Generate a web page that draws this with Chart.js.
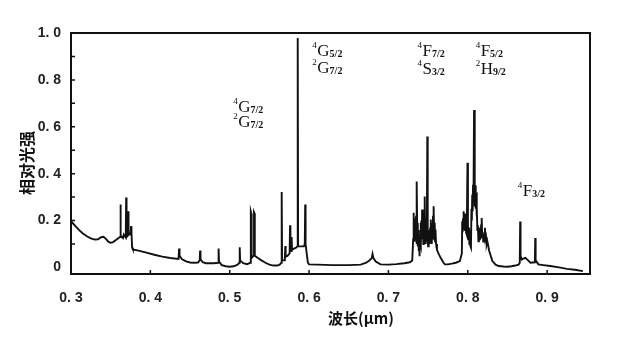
<!DOCTYPE html>
<html>
<head>
<meta charset="utf-8">
<script src="https://cdn.jsdelivr.net/npm/chart.js@4.4.0/dist/chart.umd.min.js"></script>
<style>
  html, body { margin: 0; padding: 0; background: #fff; }
  #caixa { width: 640px; height: 347px; position: relative; }
</style>
</head>
<body>
<div id="caixa"><canvas id="espectro"></canvas></div>
<script>
// ---------- DADOS ----------
const comprimentos = [
  0.300, 0.305, 0.310, 0.315, 0.320, 0.325, 0.330, 0.334, 0.338, 0.341, 0.344, 0.347, 0.350, 0.353, 0.357, 0.360,
  0.3618, 0.3623, 0.3628, 0.3655, 0.3665, 0.3690, 0.3695, 0.3700, 0.3715, 0.3720, 0.3725, 0.3740, 0.3752, 0.3757, 0.3762, 0.3770, 0.3780,
  0.385, 0.395, 0.405, 0.415, 0.425, 0.4355, 0.4362, 0.4368, 0.440, 0.445, 0.450, 0.455, 0.460,
  0.4622, 0.4627, 0.4632, 0.466, 0.470, 0.475, 0.480, 0.4855, 0.4860, 0.4865, 0.490, 0.495, 0.500, 0.505, 0.510,
  0.5121, 0.5126, 0.5131, 0.517, 0.522, 0.5262, 0.5266, 0.5272, 0.5276, 0.5302, 0.5306, 0.5312, 0.5316,
  0.535, 0.540, 0.545, 0.550, 0.555, 0.560, 0.563, 0.5650, 0.5655, 0.5660, 0.5685, 0.5695, 0.5700, 0.5705,
  0.5730, 0.5755, 0.5760, 0.5765, 0.5775, 0.5780, 0.5785, 0.581, 0.584, 0.5852, 0.5857, 0.5862, 0.589,
  0.5935, 0.5946, 0.5951, 0.5956, 0.5970, 0.5985, 0.600,
  0.610, 0.630, 0.650, 0.665, 0.672, 0.676, 0.679, 0.680, 0.681, 0.684, 0.690, 0.700, 0.710, 0.720, 0.727, 0.730,
  // primeiro grupo (0.73 - 0.76)
  0.7312, 0.7316, 0.7320, 0.7325, 0.7330, 0.7336, 0.7342, 0.7348, 0.7353, 0.7359,
  0.7364, 0.7368, 0.7372, 0.7377, 0.7382, 0.7386, 0.7390, 0.7395, 0.7400, 0.7405,
  0.7410, 0.7415, 0.7420, 0.7425, 0.7430, 0.7435, 0.7440, 0.7446, 0.7451, 0.7457,
  0.7462, 0.7467, 0.7472, 0.7478, 0.7483, 0.7490, 0.7495, 0.7500, 0.7505, 0.7510,
  0.7515, 0.7520, 0.7526, 0.7531, 0.7536, 0.7541, 0.7546, 0.7551, 0.7556, 0.7562,
  0.7567, 0.7572, 0.7577, 0.7583, 0.7588, 0.7593, 0.7600,
  0.7612, 0.7630, 0.766, 0.769, 0.7711, 0.775, 0.780, 0.785, 0.790, 0.7925,
  // segundo grupo (0.79 - 0.83)
  0.7930, 0.7935, 0.7940, 0.7945, 0.7950, 0.7955, 0.7960, 0.7966, 0.7972, 0.7978,
  0.7984, 0.7990, 0.7996, 0.8002, 0.8008, 0.8015, 0.8020, 0.8027, 0.8033, 0.8040,
  0.8046, 0.8051, 0.8056, 0.8061, 0.8066, 0.8072, 0.8079, 0.8085, 0.8090, 0.8095,
  0.8100, 0.8105, 0.8110, 0.8116, 0.8121, 0.8127, 0.8134, 0.8140, 0.8146, 0.8152,
  0.8160, 0.8168, 0.8175, 0.8182, 0.8189, 0.8195, 0.8203, 0.8210, 0.8216, 0.8222,
  0.8230, 0.8238, 0.8246, 0.827, 0.831, 0.835, 0.839,
  0.845, 0.850, 0.855, 0.860, 0.864, 0.8655, 0.8660, 0.8665, 0.8680, 0.8700, 0.8725, 0.8760, 0.8790,
  0.8845, 0.8850, 0.8855, 0.8890, 0.895, 0.904, 0.915, 0.925, 0.935, 0.945
];
const intensidades = [
  0.197, 0.178, 0.160, 0.145, 0.133, 0.124, 0.119, 0.120, 0.129, 0.131, 0.122, 0.110, 0.105, 0.108, 0.118, 0.126,
  0.130, 0.268, 0.135, 0.125, 0.140, 0.128, 0.298, 0.130, 0.135, 0.240, 0.140, 0.140, 0.150, 0.176, 0.150, 0.085, 0.077,
  0.072, 0.063, 0.054, 0.046, 0.040, 0.036, 0.081, 0.050, 0.035, 0.026, 0.021, 0.020, 0.021,
  0.030, 0.072, 0.035, 0.022, 0.018, 0.018, 0.018, 0.020, 0.081, 0.025, 0.010, 0.005, 0.003, 0.005, 0.012,
  0.020, 0.086, 0.030, 0.018, 0.014, 0.020, 0.238, 0.230, 0.040, 0.050, 0.235, 0.230, 0.050,
  0.041, 0.030, 0.020, 0.012, 0.008, 0.008, 0.012, 0.020, 0.322, 0.030, 0.030, 0.040, 0.091, 0.045,
  0.050, 0.060, 0.180, 0.070, 0.070, 0.130, 0.075, 0.080, 0.085, 0.090, 0.979, 0.090, 0.090,
  0.090, 0.100, 0.268, 0.100, 0.060, 0.020, 0.013,
  0.012, 0.010, 0.010, 0.012, 0.020, 0.030, 0.040, 0.057, 0.040, 0.025, 0.013, 0.012, 0.014, 0.018, 0.022, 0.030,
  // primeiro grupo
  0.120, 0.233, 0.130, 0.190, 0.110, 0.210, 0.120, 0.220, 0.100, 0.367,
  0.130, 0.190, 0.090, 0.160, 0.070, 0.120, 0.048, 0.140, 0.100, 0.190,
  0.090, 0.200, 0.120, 0.247, 0.120, 0.220, 0.100, 0.230, 0.120, 0.303,
  0.130, 0.210, 0.100, 0.190, 0.110, 0.559, 0.140, 0.090, 0.160, 0.095,
  0.150, 0.100, 0.170, 0.204, 0.110, 0.180, 0.100, 0.190, 0.120, 0.220,
  0.130, 0.261, 0.120, 0.190, 0.110, 0.162, 0.100,
  0.075, 0.060, 0.040, 0.022, 0.013, 0.013, 0.016, 0.020, 0.027, 0.060,
  // segundo grupo
  0.197, 0.150, 0.210, 0.160, 0.240, 0.170, 0.220, 0.160, 0.230, 0.150,
  0.210, 0.140, 0.446, 0.150, 0.120, 0.170, 0.100, 0.160, 0.090, 0.084,
  0.250, 0.200, 0.310, 0.240, 0.353, 0.300, 0.672, 0.330, 0.260, 0.350,
  0.250, 0.320, 0.220, 0.250, 0.160, 0.180, 0.112, 0.170, 0.120, 0.160,
  0.120, 0.180, 0.211, 0.130, 0.150, 0.110, 0.140, 0.120, 0.169, 0.120,
  0.130, 0.100, 0.112, 0.070, 0.027, 0.012, 0.006,
  0.004, 0.003, 0.005, 0.008, 0.012, 0.020, 0.196, 0.050, 0.034, 0.038, 0.041, 0.030, 0.020,
  0.022, 0.126, 0.030, 0.013, 0.010, 0.006, 0.000, -0.006, -0.010, -0.016
];

const ticksX = [0.3, 0.4, 0.5, 0.6, 0.7, 0.8, 0.9];
const rotulosX = ["0. 3", "0. 4", "0. 5", "0. 6", "0. 7", "0. 8", "0. 9"];
const ticksY = [0, 0.2, 0.4, 0.6, 0.8, 1.0];
const rotulosY = ["0", "0. 2", "0. 4", "0. 6", "0. 8", "1. 0"];
const marcasY = [0.1, 0.2, 0.3, 0.4, 0.5, 0.6, 0.7, 0.8, 0.9];

const tituloX = "波长(μm)";
const tituloY = "相对光强";

// termos espectroscópicos: [sobrescrito, letra, subscrito]
const termos = [
  [["4", "G", "7/2"], ["2", "G", "7/2"]],
  [["4", "G", "5/2"], ["2", "G", "7/2"]],
  [["4", "F", "7/2"], ["4", "S", "3/2"]],
  [["4", "F", "5/2"], ["2", "H", "9/2"]],
  [["4", "F", "3/2"]]
];

// ---------- DESENHO DE TEXTOS ----------
function desenharTermo(ctx, x, y, termo) {
  const [sup, letra, sub] = termo;
  ctx.font = '9px "Liberation Serif"';
  ctx.fillText(sup, x, y - 8);
  let w = ctx.measureText(sup).width + 0.5;
  ctx.font = '17px "Liberation Serif"';
  ctx.fillText(letra, x + w, y);
  w += ctx.measureText(letra).width;
  ctx.font = 'bold 10px "Liberation Serif"';
  ctx.fillText(sub, x + w, y + 1);
}

const molduraPlugin = {
  id: "moldura",
  afterDraw(chart) {
    const { ctx, chartArea: area, scales: { x, y } } = chart;
    ctx.save();
    ctx.strokeStyle = "#111";
    ctx.fillStyle = "#111";

    // bordas de cima e da direita
    ctx.lineWidth = 2;
    ctx.beginPath();
    ctx.moveTo(area.left, area.top);
    ctx.lineTo(area.right, area.top);
    ctx.lineTo(area.right, area.bottom);
    ctx.stroke();

    // marcas para dentro
    ctx.lineWidth = 1.5;
    ctx.beginPath();
    ticksX.slice(1).forEach(v => {
      const px = x.getPixelForValue(v);
      ctx.moveTo(px, area.bottom);
      ctx.lineTo(px, area.bottom - 4);
    });
    marcasY.forEach(v => {
      const py = y.getPixelForValue(v);
      ctx.moveTo(area.left, py);
      ctx.lineTo(area.left + 4, py);
    });
    ctx.stroke();

    // títulos dos eixos
    ctx.textAlign = "center";
    ctx.textBaseline = "middle";
    ctx.font = 'bold 15px "Noto Sans CJK SC"';
    ctx.fillText(tituloX, 361, 318);
    ctx.save();
    ctx.translate(27, 163);
    ctx.rotate(-Math.PI / 2);
    ctx.font = 'bold 16px "Noto Sans CJK SC"';
    ctx.fillText(tituloY, 0, 0);
    ctx.restore();

    // termos sobre os picos
    ctx.textAlign = "left";
    ctx.textBaseline = "alphabetic";
    const ancoras = [
      [0.5044, 0.663, 0.599],
      [0.6041, 0.902, 0.829],
      [0.7367, 0.902, 0.825],
      [0.8099, 0.902, 0.825],
      [0.8629, 0.305]
    ];
    termos.forEach((linhas, i) => {
      const px = x.getPixelForValue(ancoras[i][0]);
      linhas.forEach((t, j) => {
        desenharTermo(ctx, px, y.getPixelForValue(ancoras[i][j + 1]), t);
      });
    });
    ctx.restore();
  }
};

// ---------- GRÁFICO ----------
const fonteTicks = { family: '"Liberation Sans"', size: 14, weight: "bold" };

new Chart(document.getElementById("espectro"), {
  type: "line",
  data: {
    datasets: [{
      data: comprimentos.map((c, i) => ({ x: c, y: intensidades[i] })),
      borderColor: "#111",
      borderWidth: 1.9,
      pointRadius: 0,
      tension: 0,
      fill: false
    }]
  },
  options: {
    responsive: true,
    maintainAspectRatio: false,
    animation: false,
    layout: { padding: { left: 0, right: 50, top: 33, bottom: 0 } },
    plugins: { legend: { display: false }, tooltip: { enabled: false } },
    scales: {
      x: {
        type: "linear",
        min: 0.3,
        max: 0.954,
        afterFit: s => { s.height = 73; },
        afterBuildTicks: s => { s.ticks = ticksX.map(v => ({ value: v })); },
        grid: { display: false },
        border: { display: true, color: "#111", width: 2 },
        ticks: {
          color: "#222",
          font: fonteTicks,
          padding: 8,
          maxRotation: 0,
          callback: (v, i) => rotulosX[i]
        }
      },
      y: {
        min: -0.028,
        max: 1.0,
        afterFit: s => { s.width = 71; },
        afterBuildTicks: s => { s.ticks = ticksY.map(v => ({ value: v })); },
        grid: { display: false },
        border: { display: true, color: "#111", width: 2 },
        ticks: {
          color: "#222",
          font: fonteTicks,
          padding: 2,
          callback: (v, i) => rotulosY[i]
        }
      }
    }
  },
  plugins: [molduraPlugin]
});
</script>
</body>
</html>
